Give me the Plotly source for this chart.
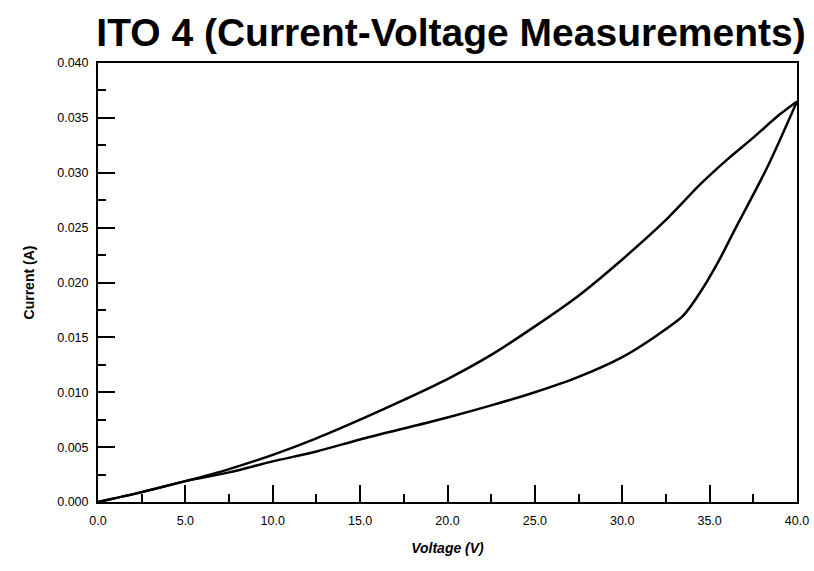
import plotly.graph_objects as go

# Upper branch of the I-V loop
voltage_upper = [0, 2.5, 5, 7.5, 10, 12.5, 15, 17.5, 20, 22.5, 25, 27.5, 30, 32.5, 34.5, 36, 37.5, 39, 40]
current_upper = [0, 0.0009, 0.0019, 0.0030, 0.0043, 0.0058, 0.0075, 0.0093, 0.0112, 0.0134,
                 0.0160, 0.0188, 0.0221, 0.0257, 0.0290, 0.0312, 0.0332, 0.0353, 0.0365]

# Lower branch of the I-V loop
voltage_lower = [0, 2.5, 5, 7.5, 10, 12.5, 15, 17.5, 20, 22.5, 25, 27.5, 30, 32, 33.5, 34.5, 35.5, 36.5, 38.3, 40]
current_lower = [0, 0.0009, 0.0019, 0.0027, 0.0037, 0.0046, 0.0057, 0.0067, 0.0077, 0.0088,
                 0.0100, 0.0114, 0.0132, 0.0152, 0.0170, 0.0192, 0.0219, 0.0250, 0.0305, 0.0365]

x_ticks = [0, 5, 10, 15, 20, 25, 30, 35, 40]
y_ticks = [0, 0.005, 0.010, 0.015, 0.020, 0.025, 0.030, 0.035, 0.040]

fig = go.Figure()
for xs, ys in [(voltage_upper, current_upper), (voltage_lower, current_lower)]:
    fig.add_trace(go.Scatter(x=xs, y=ys, mode="lines",
                             line=dict(color="black", width=2.5, shape="spline", smoothing=0.8),
                             showlegend=False, hoverinfo="skip"))

font_main = "Liberation Sans, Arial, Helvetica, sans-serif"

fig.update_layout(
    width=814, height=571,
    margin=dict(l=98, r=17, t=63, b=69, autoexpand=False),
    paper_bgcolor="white", plot_bgcolor="white",
    font=dict(family=font_main, color="black", size=12),
    title=dict(text="<b>ITO 4 (Current-Voltage Measurements)</b>",
               font=dict(family=font_main, size=39, color="black"),
               x=451 / 814, xanchor="center", y=1 - 32 / 571, yanchor="middle", yref="container"),
)

fig.update_xaxes(
    range=[0, 40], tickvals=x_ticks, tickformat=".1f", automargin=False,
    showline=True, linecolor="black", linewidth=2, mirror=True,
    ticks="inside", ticklen=17, tickwidth=1.5, tickcolor="black",
    minor=dict(dtick=2.5, ticks="inside", ticklen=8, tickwidth=1.5, tickcolor="black", showgrid=False),
    showgrid=False, zeroline=False, ticklabeloverflow="allow",
    tickfont=dict(size=12.5), ticklabelstandoff=6,
    title=dict(text="<b><i>Voltage (V)</i></b>", font=dict(size=14), standoff=16),
)
fig.update_yaxes(
    range=[0, 0.040], tickvals=y_ticks, tickformat=".3f", automargin=False,
    showline=True, linecolor="black", linewidth=2, mirror=True,
    ticks="inside", ticklen=17, tickwidth=1.5, tickcolor="black",
    minor=dict(dtick=0.0025, ticks="inside", ticklen=8, tickwidth=1.5, tickcolor="black", showgrid=False),
    showgrid=False, zeroline=False,
    tickfont=dict(size=12.5), ticklabelstandoff=5,
    title=dict(text="<b>Current (A)</b>", font=dict(size=14), standoff=19),
)

# Remove the default page margin so the 814x571 figure fills the window exactly.
fig.write_html("out.html", config={"displayModeBar": False},
               post_script="document.body.style.margin='0';")
